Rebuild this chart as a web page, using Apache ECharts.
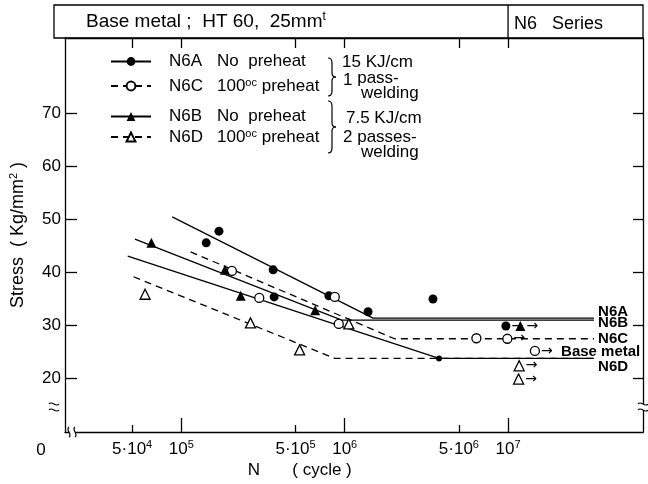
<!DOCTYPE html>
<html><head><meta charset="utf-8">
<script src="https://cdn.jsdelivr.net/npm/echarts@6/dist/echarts.min.js"></script>
<style>html,body{margin:0;padding:0;background:#fff}#c{width:648px;height:484px}</style>
</head><body><div id="c"></div>
<script>
// ---- data (N in cycles, stress in kg/mm2) ----
const n6aN = [1.42e5, 1.70e5, 3.65e5, 3.70e5, 8.0e5, 1.39e6, 3.47e6];
const n6aS = [45.5, 47.7, 40.4, 35.3, 35.5, 32.5, 34.9];
const n6aRunN = [9.7e6];
const n6aRunS = [29.8];
const n6aFitN = [8.8e4, 1.49e6, 3.36e7];
const n6aFitS = [50.4, 31.3, 31.3];

const n6cN = [2.04e5, 3.0e5, 8.7e5, 9.2e5, 6.4e6];
const n6cS = [40.2, 35.1, 35.3, 30.2, 27.5];
const n6cRunN = [9.9e6];
const n6cRunS = [27.4];
const n6cFitN = [1.14e5, 2.02e6, 3.36e7];
const n6cFitS = [43.8, 27.4, 27.4];

const n6bN = [6.56e4, 1.85e5, 2.31e5, 6.6e5];
const n6bS = [45.5, 40.4, 35.5, 32.8];
const n6bRunN = [1.19e7];
const n6bRunS = [29.8];
const n6bFitN = [5.2e4, 9.6e5, 3.36e7];
const n6bFitS = [46.2, 30.9, 30.9];

const n6dN = [6.0e4, 2.65e5, 5.3e5, 1.06e6];
const n6dS = [35.8, 30.4, 25.3, 30.2];
const n6dRunN = [1.17e7, 1.16e7];
const n6dRunS = [22.3, 19.8];
const n6dFitN = [5.1e4, 8.7e5, 3.36e7];
const n6dFitS = [39.1, 23.7, 23.7];

const baseRunN = [1.46e7];
const baseRunS = [25.1];
const baseFitN = [4.7e4, 3.78e6, 3.36e7];
const baseFitS = [43.0, 23.7, 23.7];
const baseKneeN = [3.78e6];
const baseKneeS = [23.7];

const yTicks = [20, 30, 40, 50, 60, 70];
const xMajorTicks = [1e5, 1e6, 1e7];
const xMajorLabels = ['10^5', '10^6', '10^7'];
const xMinorTicks = [5e4, 5e5, 5e6];
const xMinorLabels = ['5·10^4', '5·10^5', '5·10^6'];

// ---- helpers ----
const L = v => Math.log10(v);
const pairs = (ns, ss) => ns.map((n, i) => [L(n), ss[i]]);
const FONT = 'Liberation Sans, Arial, sans-serif';
const toRich = s => s.replace(/\^(\w+)/, '{s|$1}');
const X_MIN = 4.288, X_MAX = 7.826, Y_MIN = 9.81, Y_MAX = 84.15;
const BLACK = '#000';
const supRich = {
  s: {fontSize: 11, verticalAlign: 'top', lineHeight: 20, fontFamily: FONT, color: BLACK}
};

const chart = echarts.init(document.getElementById('c'));

function xAxis(position, ticks, len, labels, showLine) {
  const tv = ticks.map(L);
  return {
    type: 'value', position: position, min: X_MIN, max: X_MAX,
    axisLine: {show: showLine, onZero: false, lineStyle: {color: BLACK, width: 1.3}},
    axisTick: {show: true, inside: true, length: len, customValues: tv,
               lineStyle: {color: BLACK, width: 1.3}},
    axisLabel: labels ? {
      show: true, customValues: tv, margin: 7,
      formatter: v => toRich(labels[tv.findIndex(t => Math.abs(t - v) < 1e-6)] || ''),
      fontSize: 17, fontFamily: FONT, color: BLACK, lineHeight: 20, rich: supRich
    } : {show: false},
    splitLine: {show: false}
  };
}

const lineBase = (name, ns, ss, symbol, dashed, fill, endLabel) => ({
  name: name, type: 'line', data: pairs(ns, ss), symbol: symbol, symbolSize: 9,
  showSymbol: false, silent: true, z: 2, animation: false,
  lineStyle: {color: BLACK, width: 1.3, type: dashed ? [7, 5] : 'solid'},
  itemStyle: {color: fill, borderColor: BLACK, borderWidth: fill === '#fff' ? 1.3 : 0},
  endLabel: endLabel
});
const endLbl = (text, off) => ({
  show: true, formatter: text, offset: off, distance: 0,
  fontSize: 15, fontWeight: 'bold', fontFamily: FONT, color: BLACK
});
const runLabel = {show: true, position: 'right', distance: 1, formatter: '→',
  fontSize: 14, fontFamily: 'DejaVu Sans', color: BLACK};
const scat = (ns, ss, symbol, fill, size, label) => ({
  type: 'scatter', data: pairs(ns, ss), symbol: symbol, symbolSize: size, z: 5,
  silent: true, animation: false,
  itemStyle: {color: fill, borderColor: BLACK, borderWidth: fill === '#fff' ? 1.3 : 0, opacity: 1},
  label: label || {show: false}
});

const legendRich = {
  g: {width: 13, lineHeight: 18},
  n: {width: 48, fontSize: 17, fontFamily: FONT, color: BLACK, lineHeight: 18},
  d: {fontSize: 17, fontFamily: FONT, color: BLACK, lineHeight: 18},
  u: {fontSize: 11, fontFamily: FONT, color: BLACK, verticalAlign: 'top', lineHeight: 18}
};
const legendDesc = {
  'N6A': '{g|}{n|N6A}{d|No  preheat}',
  'N6C': '{g|}{n|N6C}{d|100}{u|oc}{d| preheat}',
  'N6B': '{g|}{n|N6B}{d|No  preheat}',
  'N6D': '{g|}{n|N6D}{d|100}{u|oc}{d| preheat}'
};
const legendCommon = {
  orient: 'vertical', left: 110, itemWidth: 40, itemHeight: 11, selectedMode: false,
  formatter: n => legendDesc[n], textStyle: {rich: legendRich, fontFamily: FONT, color: BLACK, fontSize: 17},
  padding: 0
};

chart.setOption({
  animation: false,
  backgroundColor: '#fff',
  grid: {left: 54, right: 5, top: 38, bottom: 52, containLabel: false},
  legend: [
    Object.assign({data: ['N6A', 'N6C'], top: 53, itemGap: 7}, legendCommon),
    Object.assign({data: ['N6B', 'N6D'], top: 108, itemGap: 3}, legendCommon)
  ],
  xAxis: [
    xAxis('bottom', xMajorTicks, 14, xMajorLabels, true),
    xAxis('bottom', xMinorTicks, 7, xMinorLabels, false),
    xAxis('top', xMajorTicks.concat(xMinorTicks), 10, null, true)
  ],
  yAxis: [
    {
      type: 'value', position: 'left', min: Y_MIN, max: Y_MAX,
      axisLine: {show: true, onZero: false, lineStyle: {color: BLACK, width: 1.3}},
      axisTick: {show: true, inside: true, length: 12, customValues: yTicks, lineStyle: {color: BLACK, width: 1.3}},
      axisLabel: {show: true, customValues: yTicks, margin: 4, fontSize: 17, fontFamily: FONT, color: BLACK},
      splitLine: {show: false},
      name: 'Stress  ( Kg/mm{s|2} )', nameLocation: 'middle', nameGap: 37, nameRotate: 90,
      nameTextStyle: {fontSize: 18, fontFamily: FONT, color: BLACK, lineHeight: 20,
        rich: {s: {fontSize: 11, verticalAlign: 'top', lineHeight: 20, fontFamily: FONT, color: BLACK}}}
    },
    {
      type: 'value', position: 'right', min: Y_MIN, max: Y_MAX,
      axisLine: {show: true, onZero: false, lineStyle: {color: BLACK, width: 1.3}},
      axisTick: {show: true, inside: true, length: 10, customValues: yTicks, lineStyle: {color: BLACK, width: 1.3}},
      axisLabel: {show: false}, splitLine: {show: false}
    }
  ],
  series: [
    lineBase('N6A', n6aFitN, n6aFitS, 'circle', false, BLACK, endLbl('N6A', [4, -6])),
    lineBase('N6C', n6cFitN, n6cFitS, 'circle', true, '#fff', endLbl('N6C', [4, 0])),
    lineBase('N6B', n6bFitN, n6bFitS, 'triangle', false, BLACK, endLbl('N6B', [4, 3])),
    lineBase('N6D', n6dFitN, n6dFitS, 'triangle', true, '#fff', endLbl('N6D', [4, 8])),
    lineBase('Base metal', baseFitN, baseFitS, 'none', false, BLACK, endLbl('Base metal', [-33, -7])),
    scat(n6aN, n6aS, 'circle', BLACK, 9),
    scat(n6aRunN, n6aRunS, 'circle', BLACK, 9, runLabel),
    scat(n6cN, n6cS, 'circle', '#fff', 9),
    scat(n6cRunN, n6cRunS, 'circle', '#fff', 9, runLabel),
    scat(baseRunN, baseRunS, 'circle', '#fff', 9, runLabel),
    scat(n6bN, n6bS, 'triangle', BLACK, 10),
    scat(n6bRunN, n6bRunS, 'triangle', BLACK, 10, runLabel),
    scat(n6dN, n6dS, 'triangle', '#fff', 10),
    scat(n6dRunN, n6dRunS, 'triangle', '#fff', 10, runLabel),
    scat(baseKneeN, baseKneeS, 'circle', BLACK, 6)
  ]
});

// ---- frame decorations and annotations ----
const sepX = chart.convertToPixel({xAxisIndex: 0}, L(1e7));
const txt = (x, y, text, size) => ({
  type: 'text', x: x, y: y, z: 10,
  style: {text: text, fontSize: size || 17, fontFamily: FONT, fill: BLACK, verticalAlign: 'middle', align: 'left'}
});
const stroke = {stroke: BLACK, lineWidth: 1.2, fill: 'none'};
const qcurve = (x1, y1, cx, cy, x2, y2) => ({type: 'bezierCurve', z: 10,
  shape: {x1: x1, y1: y1, cpx1: cx, cpy1: cy, x2: x2, y2: y2}, style: stroke});
const seg = (x1, y1, x2, y2) => ({type: 'line', z: 10, shape: {x1: x1, y1: y1, x2: x2, y2: y2}, style: stroke});
const brace = (x0, y1, y2) => {
  const ym = (y1 + y2) / 2, xm = x0 + 4, xt = x0 + 8;
  return [
    qcurve(x0, y1, xm, y1, xm, y1 + 5),
    seg(xm, y1 + 5, xm, ym - 4),
    qcurve(xm, ym - 4, xm, ym, xt, ym),
    qcurve(xt, ym, xm, ym, xm, ym + 4),
    seg(xm, ym + 4, xm, y2 - 5),
    qcurve(xm, y2 - 5, xm, y2, x0, y2)
  ];
};
const vBreak = (x, y) => [
  {type: 'rect', z: 11, shape: {x: x - 5, y: y - 3, width: 10, height: 6}, style: {fill: '#fff'}},
  {type: 'bezierCurve', z: 12, shape: {x1: x - 5, y1: y - 3, x2: x + 5, y2: y - 3, cpx1: x - 2, cpy1: y - 7, cpx2: x + 2, cpy2: y + 1}, style: stroke},
  {type: 'bezierCurve', z: 12, shape: {x1: x - 5, y1: y + 3, x2: x + 5, y2: y + 3, cpx1: x - 2, cpy1: y - 1, cpx2: x + 2, cpy2: y + 7}, style: stroke}
];
const hBreak = (x, y) => [
  {type: 'rect', z: 11, shape: {x: x - 3, y: y - 5, width: 6, height: 10}, style: {fill: '#fff'}},
  {type: 'bezierCurve', z: 12, shape: {x1: x - 3, y1: y - 5, x2: x - 3, y2: y + 5, cpx1: x - 7, cpy1: y - 2, cpx2: x + 1, cpy2: y + 2}, style: stroke},
  {type: 'bezierCurve', z: 12, shape: {x1: x + 3, y1: y - 5, x2: x + 3, y2: y + 5, cpx1: x - 1, cpy1: y - 2, cpx2: x + 7, cpy2: y + 2}, style: stroke}
];

chart.setOption({
  graphic: [
    {type: 'rect', z: 9, shape: {x: 54, y: 5, width: 589, height: 33}, style: {fill: 'none', stroke: BLACK, lineWidth: 1.3}},
    {type: 'line', z: 9, shape: {x1: sepX, y1: 5, x2: sepX, y2: 38}, style: {stroke: BLACK, lineWidth: 1.3}},
    {type: 'text', x: 86, y: 22, z: 10, style: {text: 'Base metal ;  HT 60,  25mm{s|t}', fontSize: 19, fontFamily: FONT,
      fill: BLACK, verticalAlign: 'middle', lineHeight: 22,
      rich: {s: {fontSize: 12, verticalAlign: 'top', lineHeight: 22, fontFamily: FONT, fill: BLACK}}}},
    txt(514, 24, 'N6   Series', 18),
    txt(342, 62, '15 KJ/cm', 17),
    {type: 'text', x: 343, y: 80, z: 10, style: {text: '1 {p|pass-}', fontSize: 17, fontFamily: FONT, fill: BLACK,
      verticalAlign: 'middle', rich: {p: {fontSize: 17, fontFamily: FONT, fill: BLACK, padding: [0, 0, 4, 0]}}}},
    txt(361, 93, 'welding', 17),
    txt(346, 118, '7.5 KJ/cm', 17),
    txt(343, 137, '2 passes-', 17),
    txt(361, 152, 'welding', 17),
    {type: 'text', x: 41, y: 450, z: 10, style: {text: '0', fontSize: 17, fontFamily: FONT, fill: BLACK, align: 'center', verticalAlign: 'middle'}},
    {type: 'text', x: 254, y: 470, z: 10, style: {text: 'N', fontSize: 17, fontFamily: FONT, fill: BLACK, align: 'center', verticalAlign: 'middle'}},
    {type: 'text', x: 322, y: 470, z: 10, style: {text: '( cycle )', fontSize: 17, fontFamily: FONT, fill: BLACK, align: 'center', verticalAlign: 'middle'}}
  ].concat(brace(328, 58, 96), brace(328, 101, 153), vBreak(54, 407), vBreak(643, 407), hBreak(72, 432))
});
</script></body></html>
